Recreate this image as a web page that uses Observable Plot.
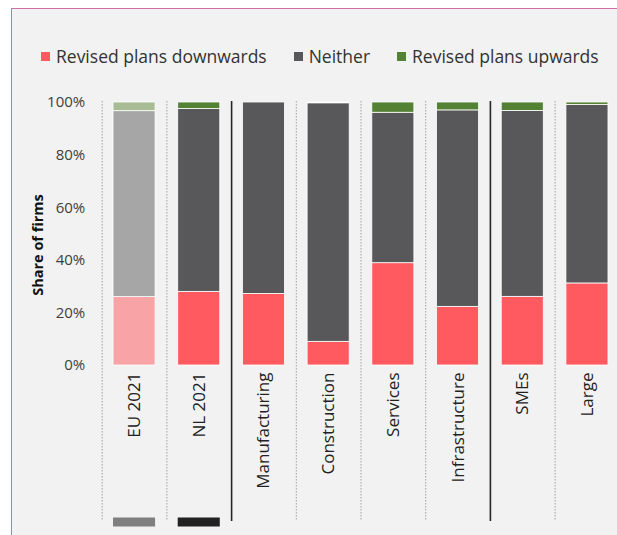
<!DOCTYPE html>
<html>
<head>
<meta charset="utf-8">
<script src="https://cdn.jsdelivr.net/npm/d3@7"></script>
<script src="https://cdn.jsdelivr.net/npm/@observablehq/plot@0.6"></script>
<style>
  html, body { margin: 0; padding: 0; width: 617px; height: 535px; overflow: hidden; background: #ffffff; font-family: "Open Sans", sans-serif; }
  #frame { position: absolute; left: 11px; top: 8px; width: 700px; height: 600px; background: #F2F2F2; border-left: 1.5px solid #CF6FA3; border-top: 1.5px solid #CF6FA3; box-sizing: border-box; }
  #legend { position: absolute; left: 41px; top: 44px; display: flex; align-items: center; font-size: 17.5px; color: #333; white-space: nowrap; }
  .item { display: flex; align-items: center; margin-right: 27px; }
  .sw { width: 9px; height: 9px; margin-right: 6px; }
  #chart { position: absolute; left: 0; top: 80px; width: 625px; }
  #chart svg { max-width: none !important; }
</style>
</head>
<body>
<div id="frame"></div>
<div id="legend"></div>
<div id="chart"></div>
<script>
// ---- data ----
const categories = ["EU 2021", "NL 2021", "Manufacturing", "Construction", "Services", "Infrastructure", "SMEs", "Large"];
const groups = ["Total", "Total", "Sector", "Sector", "Sector", "Sector", "Size", "Size"];
const seriesNames = ["Revised plans downwards", "Neither", "Revised plans upwards"];
const downwards = [0.26, 0.28, 0.272, 0.09, 0.389, 0.223, 0.261, 0.312];
const neither   = [0.707, 0.695, 0.728, 0.907, 0.572, 0.747, 0.707, 0.679];
const upwards   = [0.033, 0.025, 0.0, 0.003, 0.039, 0.03, 0.032, 0.009];
const markerCats = ["EU 2021", "NL 2021"];
const yTicks = [0, 0.2, 0.4, 0.6, 0.8, 1.0];

// ---- styles ----
const colors = {"Revised plans downwards": "#FF5A5F", "Neither": "#58585A", "Revised plans upwards": "#548235"};
const lightColors = {"Revised plans downwards": "#F8A3A6", "Neither": "#A6A6A6", "Revised plans upwards": "#A8BD95"};
const markerColors = {"EU 2021": "#7F7F7F", "NL 2021": "#222222"};

const table = [];
categories.forEach((c, i) => {
  [downwards, neither, upwards].forEach((arr, j) => {
    table.push({cat: c, series: seriesNames[j], value: arr[i], light: c === "EU 2021"});
  });
});

const seps = categories.map((c, i) => ({cat: c, solid: i > 0 && groups[i] !== groups[i - 1]}));

// legend
const leg = document.getElementById("legend");
seriesNames.forEach(s => {
  const it = document.createElement("div");
  it.className = "item";
  it.innerHTML = `<div class="sw" style="background:${colors[s]}"></div><span>${s}</span>`;
  leg.appendChild(it);
});

const W = 625, H = 455, mL = 101.7, mR = 5.7;
const pInner = 0.35, pOuter = 0.175;
const step = (W - mL - mR) / (categories.length - pInner + 2 * pOuter);

const plot = Plot.plot({
  width: W,
  height: H,
  marginLeft: mL,
  marginRight: mR,
  marginTop: 22,
  marginBottom: 170,
  style: {background: "transparent", fontFamily: "Open Sans", fontSize: "14px", color: "#404040", overflow: "visible", maxWidth: "none"},
  x: {domain: categories, paddingInner: pInner, paddingOuter: pOuter, round: false, label: null},
  y: {domain: [0, 1], label: null},
  color: {type: "identity"},
  marks: [
    Plot.ruleX(seps.filter(d => !d.solid), {x: "cat", dx: -step / 2, stroke: "#A0A0A0", strokeWidth: 1, strokeDasharray: "1.5,1.5", insetTop: -1, insetBottom: -155}),
    Plot.ruleX(seps.filter(d => d.solid), {x: "cat", dx: -step / 2, stroke: "#262626", strokeWidth: 1.6, insetTop: -1, insetBottom: -156}),
    Plot.barY(table, {
      x: "cat", y: "value", z: "series", order: seriesNames,
      fill: d => (d.light ? lightColors : colors)[d.series],
      stroke: "#FFFFFF", strokeWidth: 0.8
    }),
    Plot.tickY(markerCats, {x: d => d, y: () => 0, dy: 156.5, stroke: d => markerColors[d], strokeWidth: 9}),
    Plot.axisY({ticks: yTicks, tickFormat: d3.format(".0%"), tickSize: 0, tickPadding: 17, fontSize: 15, fill: "#404040"}),
    Plot.axisX({tickRotate: -90, tickSize: 0, tickPadding: 7, fontSize: 17, fill: "#222222"}),
    Plot.text(["Share of firms"], {frameAnchor: "left", rotate: -90, textAnchor: "middle", dx: -63.7, dy: 11, fontWeight: "bold", fontSize: 14.5, fill: "#111111"})
  ]
});
plot.style.maxWidth = "none";
d3.select(plot).selectAll("g[aria-label^='x-axis'] text").style("font-size", "17px");
d3.select(plot).selectAll("g[aria-label^='y-axis'] text").style("font-size", "15px");
document.getElementById("chart").appendChild(plot);
</script>
</body>
</html>
